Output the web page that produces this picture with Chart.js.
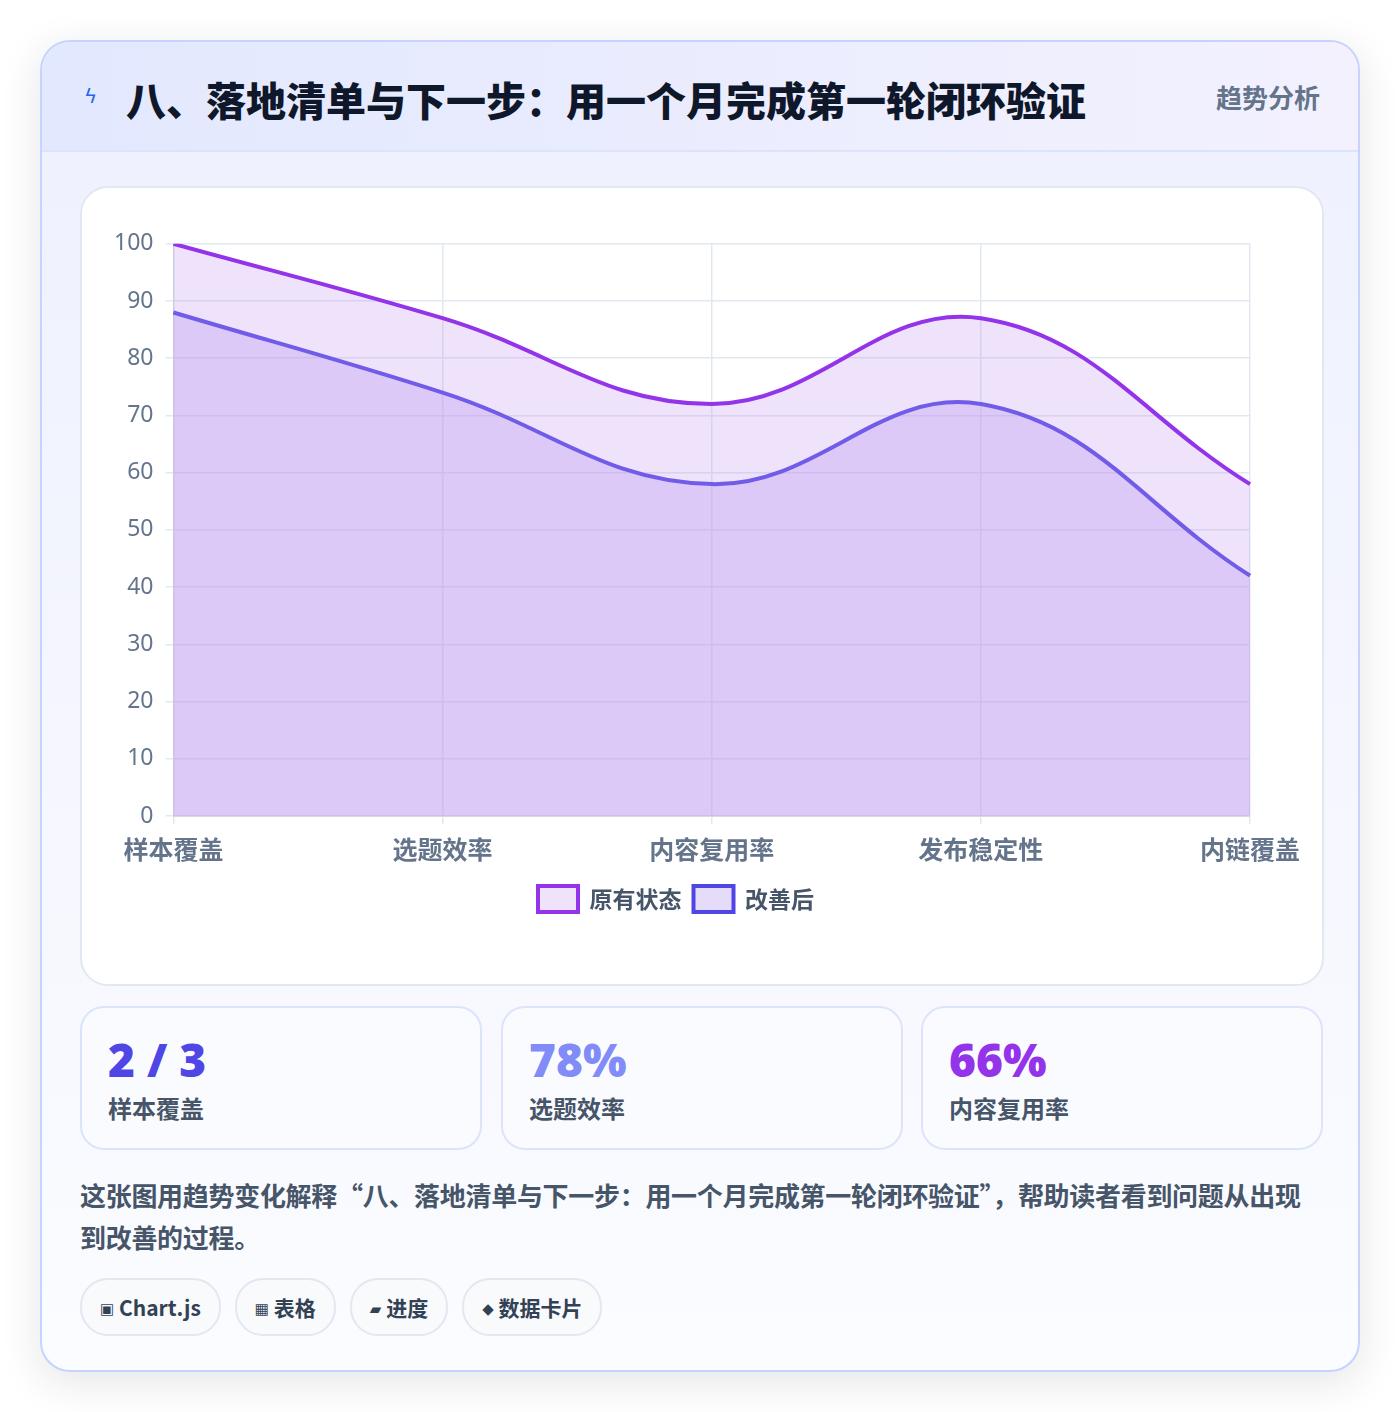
<!DOCTYPE html>
<html><head><meta charset="utf-8">
<script src="https://cdn.jsdelivr.net/npm/chart.js@4.4.0/dist/chart.umd.min.js"></script>
<style>
  body { margin:0; background:#fff; font-family:"Noto Sans CJK SC","Noto Sans",sans-serif; }
  .card { position:absolute; left:40px; top:40px; width:1316px; height:1328px; border:2px solid #c7d2fe; border-radius:30px;
    background:linear-gradient(180deg,#eef0fe 0%,#fbfcff 100%); box-shadow:0 10px 40px rgba(30,41,59,0.12); overflow:hidden; }
  .head { height:108px; border-bottom:2px solid #dbe4fb; background:linear-gradient(90deg,#e2e8fe,#f3f1fe); position:relative; }
  .head .icon { position:absolute; left:42px; top:42px; font-size:20px; color:#2563eb; font-family:"DejaVu Sans"; }
  .head h1 { position:absolute; left:84px; top:28px; margin:0; font-size:40px; font-weight:900; color:#0f172a; }
  .head .tag { position:absolute; right:38px; top:36px; font-size:26px; font-weight:700; color:#64748b; }
  .chartbox { position:absolute; left:38px; top:144px; width:1240px; height:796px; background:#fff; border:2px solid #e2e8f0; border-radius:28px; }
  .chartbox .inner { position:absolute; left:20px; top:30px; width:1210px; height:730px; }
  .stat { position:absolute; top:964px; width:398px; height:140px; border:2px solid #dbe4fb; border-radius:24px; background:#fafbff; }
  .stat .v { position:absolute; left:26px; top:20px; font-size:46px; font-weight:900; font-family:"Noto Sans","Noto Sans CJK SC"; }
  .stat .l { position:absolute; left:26px; top:82px; font-size:24px; font-weight:700; color:#475569; }
  .desc { position:absolute; left:38px; top:1132px; width:1240px; font-size:26px; font-weight:700; color:#475569; line-height:42px; letter-spacing:-0.3px; }
  .pills { position:absolute; left:38px; top:1236px; }
  .pill { display:inline-block; height:54px; line-height:54px; padding:0 18px; margin-right:14px; border:2px solid #e2e8f0; border-radius:28px; background:#f8fafc; font-size:21px; font-weight:700; color:#334155; }
  .pill i { font-style:normal; font-size:15px; font-family:"DejaVu Sans"; vertical-align:2px; }
</style></head>
<body>
<div class="card">
  <div class="head"><span class="icon">ϟ</span><h1>八、落地清单与下一步：用一个月完成第一轮闭环验证</h1><span class="tag">趋势分析</span></div>
  <div class="chartbox"><div class="inner"><canvas id="c"></canvas></div></div>
  <div class="stat" style="left:38px"><div class="v" style="color:#4f46e5">2 / 3</div><div class="l">样本覆盖</div></div>
  <div class="stat" style="left:459px"><div class="v" style="color:#818cf8">78%</div><div class="l">选题效率</div></div>
  <div class="stat" style="left:879px"><div class="v" style="color:#9333ea">66%</div><div class="l">内容复用率</div></div>
  <div class="desc">这张图用趋势变化解释“八、落地清单与下一步：用一个月完成第一轮闭环验证”，帮助读者看到问题从出现到改善的过程。</div>
  <div class="pills"><span class="pill"><i>▣</i> Chart.js</span><span class="pill"><i>▦</i> 表格</span><span class="pill"><i>▰</i> 进度</span><span class="pill"><i>◆</i> 数据卡片</span></div>
</div>
<script>
const categories = ['样本覆盖', '选题效率', '内容复用率', '发布稳定性', '内链覆盖'];
const beforeValues = [100, 87, 72, 87, 58];
const afterValues = [88, 74, 58, 72, 42];

new Chart(document.getElementById('c'), {
  type: 'line',
  data: {
    labels: categories,
    datasets: [
      { label: '原有状态', data: beforeValues, borderColor: '#9333ea', backgroundColor: 'rgba(196,150,240,0.28)', fill: 'origin', tension: 0.4, borderWidth: 4, pointRadius: 0 },
      { label: '改善后', data: afterValues, borderColor: '#4f46e5', backgroundColor: 'rgba(170,140,240,0.3)', fill: 'origin', tension: 0.4, borderWidth: 4, pointRadius: 0 }
    ]
  },
  options: {
    responsive: true, maintainAspectRatio: false, animation: false,
    layout: { padding: { left: 0, right: 62 } },
    scales: {
      y: { min: 0, max: 100, ticks: { stepSize: 10, padding: 12, color: '#64748b', font: { size: 23, family: 'Noto Sans' } }, grid: { color: '#e2e8f0', lineWidth: 1.5 } },
      x: { ticks: { padding: 10, color: '#64748b', font: { size: 25, weight: 'bold', family: 'Noto Sans CJK SC' } }, grid: { color: '#e2e8f0', lineWidth: 1.5 } }
    },
    plugins: {
      legend: { position: 'bottom', labels: { color: '#475569', boxWidth: 40, boxHeight: 26, padding: 12, font: { size: 23, weight: 'bold', family: 'Noto Sans CJK SC' } } }
    }
  },
  plugins: [{ id: 'legendGap', beforeInit(chart) {
    const fit = chart.legend.fit;
    chart.legend.fit = function () { fit.bind(chart.legend)(); this.height += 26; };
  } }]
});
</script>
</body></html>
